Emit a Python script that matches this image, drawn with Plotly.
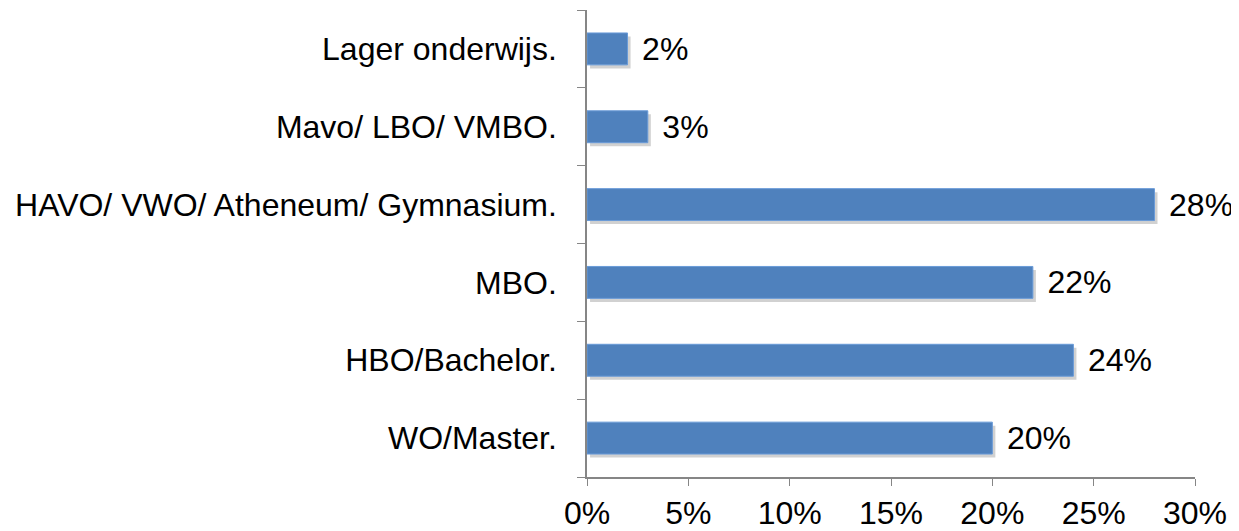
import plotly.graph_objects as go

categories = ['WO/Master.', 'HBO/Bachelor.', 'MBO.', 'HAVO/ VWO/ Atheneum/ Gymnasium.',
              'Mavo/ LBO/ VMBO.', 'Lager onderwijs.']
values = [20, 24, 22, 28, 3, 2]
tick_vals = [0, 5, 10, 15, 20, 25, 30]
tick_text = ['0%', '5%', '10%', '15%', '20%', '25%', '30%']

fnt = dict(family='Liberation Sans, Arial, sans-serif', size=32, color='#000000')
bw = 0.41

fig = go.Figure()
# soft shadow under each bar
fig.add_trace(go.Bar(y=categories, x=values, base=0.15, orientation='h', width=bw,
                     offset=-bw / 2 - 0.045, marker=dict(color='rgba(0,0,0,0.18)', line=dict(width=0)),
                     hoverinfo='skip', showlegend=False))
fig.add_trace(go.Bar(y=categories, x=values, orientation='h', width=bw, offset=-bw / 2,
                     marker=dict(color='#4F81BD', line=dict(color='#6A9BD8', width=1)),
                     text=['\u00a0\u200a' + f'{v}%' for v in values], textposition='outside',
                     textfont=fnt, cliponaxis=False, showlegend=False))

# page body adds 8px, so the figure is 8px smaller than the window
fig.update_layout(
    width=1231, height=523,
    margin=dict(l=579, r=44, t=2, b=54),
    paper_bgcolor='white', plot_bgcolor='white',
    font=fnt, barmode='overlay',
    uniformtext=dict(minsize=32, mode='show'),
)
fig.update_xaxes(range=[0, 30], tickvals=tick_vals, ticktext=tick_text, showgrid=False,
                 zeroline=False, showline=True, linecolor='#868686', linewidth=1.5,
                 ticks='outside', ticklen=7, tickcolor='#868686', tickfont=fnt,
                 automargin=False)
fig.update_yaxes(type='category', categoryorder='array', categoryarray=categories,
                 tickson='boundaries', showgrid=False, zeroline=False, showline=True,
                 linecolor='#868686', linewidth=1.5, ticks='outside', ticklen=8,
                 tickcolor='#868686', tickfont=fnt, automargin=False,
                 ticklabelstandoff=22)

fig.write_html('out.html')
